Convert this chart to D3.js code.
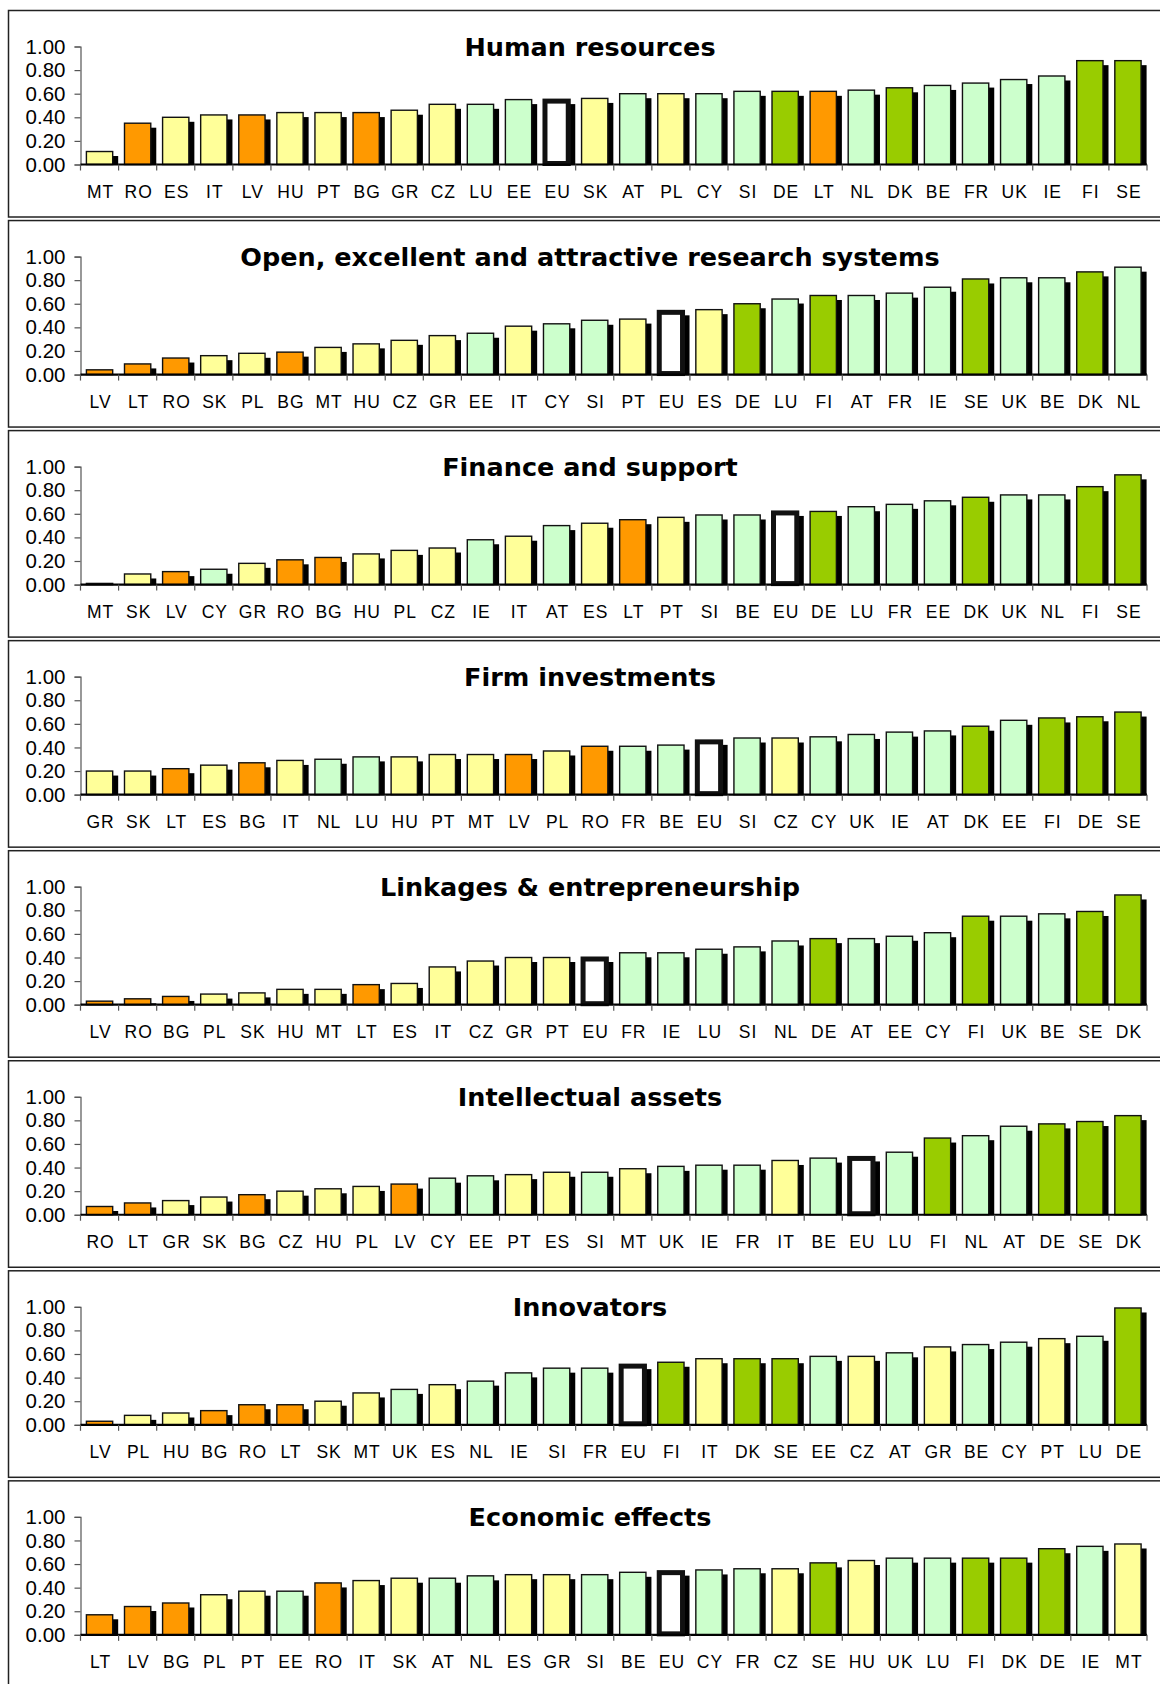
<!DOCTYPE html>
<html><head><meta charset="utf-8">
<script src="https://cdn.jsdelivr.net/npm/d3@7"></script>
<style>body{margin:0;background:#fff}svg{display:block}</style>
</head><body>
<script>
// ---- Data ----
const titles = ["Human resources","Open, excellent and attractive research systems","Finance and support",
  "Firm investments","Linkages & entrepreneurship","Intellectual assets","Innovators","Economic effects"];

const cats1 = ["MT","RO","ES","IT","LV","HU","PT","BG","GR","CZ","LU","EE","EU","SK","AT","PL","CY","SI","DE","LT","NL","DK","BE","FR","UK","IE","FI","SE"];
const vals1 = [0.11,0.35,0.40,0.42,0.42,0.44,0.44,0.44,0.46,0.51,0.51,0.55,0.55,0.56,0.60,0.60,0.60,0.62,0.62,0.62,0.63,0.65,0.67,0.69,0.72,0.75,0.88,0.88];

const cats2 = ["LV","LT","RO","SK","PL","BG","MT","HU","CZ","GR","EE","IT","CY","SI","PT","EU","ES","DE","LU","FI","AT","FR","IE","SE","UK","BE","DK","NL"];
const vals2 = [0.04,0.09,0.14,0.16,0.18,0.19,0.23,0.26,0.29,0.33,0.35,0.41,0.43,0.46,0.47,0.54,0.55,0.60,0.64,0.67,0.67,0.69,0.74,0.81,0.82,0.82,0.87,0.91];

const cats3 = ["MT","SK","LV","CY","GR","RO","BG","HU","PL","CZ","IE","IT","AT","ES","LT","PT","SI","BE","EU","DE","LU","FR","EE","DK","UK","NL","FI","SE"];
const vals3 = [0.01,0.09,0.11,0.13,0.18,0.21,0.23,0.26,0.29,0.31,0.38,0.41,0.50,0.52,0.55,0.57,0.59,0.59,0.62,0.62,0.66,0.68,0.71,0.74,0.76,0.76,0.83,0.93];

const cats4 = ["GR","SK","LT","ES","BG","IT","NL","LU","HU","PT","MT","LV","PL","RO","FR","BE","EU","SI","CZ","CY","UK","IE","AT","DK","EE","FI","DE","SE"];
const vals4 = [0.20,0.20,0.22,0.25,0.27,0.29,0.30,0.32,0.32,0.34,0.34,0.34,0.37,0.41,0.41,0.42,0.46,0.48,0.48,0.49,0.51,0.53,0.54,0.58,0.63,0.65,0.66,0.70];

const cats5 = ["LV","RO","BG","PL","SK","HU","MT","LT","ES","IT","CZ","GR","PT","EU","FR","IE","LU","SI","NL","DE","AT","EE","CY","FI","UK","BE","SE","DK"];
const vals5 = [0.03,0.05,0.07,0.09,0.10,0.13,0.13,0.17,0.18,0.32,0.37,0.40,0.40,0.40,0.44,0.44,0.47,0.49,0.54,0.56,0.56,0.58,0.61,0.75,0.75,0.77,0.79,0.93];

const cats6 = ["RO","LT","GR","SK","BG","CZ","HU","PL","LV","CY","EE","PT","ES","SI","MT","UK","IE","FR","IT","BE","EU","LU","FI","NL","AT","DE","SE","DK"];
const vals6 = [0.07,0.10,0.12,0.15,0.17,0.20,0.22,0.24,0.26,0.31,0.33,0.34,0.36,0.36,0.39,0.41,0.42,0.42,0.46,0.48,0.49,0.53,0.65,0.67,0.75,0.77,0.79,0.84];

const cats7 = ["LV","PL","HU","BG","RO","LT","SK","MT","UK","ES","NL","IE","SI","FR","EU","FI","IT","DK","SE","EE","CZ","AT","GR","BE","CY","PT","LU","DE"];
const vals7 = [0.03,0.08,0.10,0.12,0.17,0.17,0.20,0.27,0.30,0.34,0.37,0.44,0.48,0.48,0.51,0.53,0.56,0.56,0.56,0.58,0.58,0.61,0.66,0.68,0.70,0.73,0.75,0.99];

const cats8 = ["LT","LV","BG","PL","PT","EE","RO","IT","SK","AT","NL","ES","GR","SI","BE","EU","CY","FR","CZ","SE","HU","UK","LU","FI","DK","DE","IE","MT"];
const vals8 = [0.17,0.24,0.27,0.34,0.37,0.37,0.44,0.46,0.48,0.48,0.50,0.51,0.51,0.51,0.53,0.54,0.55,0.56,0.56,0.61,0.63,0.65,0.65,0.65,0.65,0.73,0.75,0.77];

const yTicks = [0, 0.2, 0.4, 0.6, 0.8, 1.0];

// Country groups (bar colours)
const modest    = ["RO","LV","BG","LT"];
const moderate  = ["MT","ES","IT","HU","PT","GR","CZ","SK","PL"];
const followers = ["LU","EE","AT","CY","SI","NL","BE","FR","UK","IE"];
const leaders   = ["DE","DK","FI","SE"];

const panels = [
  {cats:cats1, vals:vals1}, {cats:cats2, vals:vals2}, {cats:cats3, vals:vals3}, {cats:cats4, vals:vals4},
  {cats:cats5, vals:vals5}, {cats:cats6, vals:vals6}, {cats:cats7, vals:vals7}, {cats:cats8, vals:vals8}
];

function colorOf(c){
  if (c === "EU") return "#ffffff";
  if (modest.includes(c)) return "#ff9900";
  if (moderate.includes(c)) return "#ffff99";
  if (followers.includes(c)) return "#ccffcc";
  if (leaders.includes(c)) return "#99cc00";
  return "#cccccc";
}

// ---- Drawing ----
const W = 1160, H = 1684;
const svg = d3.select("body").append("svg").attr("width", W).attr("height", H);

panels.forEach((p, k) => {
  const top = 10 + 210.05 * k;
  const g = svg.append("g").attr("transform", `translate(0,${top})`);

  g.append("rect").attr("x", 8.5).attr("y", 0.5).attr("width", 1170).attr("height", 206.5)
    .attr("fill", "#fff").attr("stroke", "#222").attr("stroke-width", 1.5);

  const x = d3.scaleBand().domain(p.cats).range([80.5, 1147]).paddingInner(0.31).paddingOuter(0.155);
  const y = d3.scaleLinear().domain([0, 1]).range([154.5, 36.5]);
  const step = x.step();
  const x0 = 80.5;

  // title
  g.append("text").attr("x", 590).attr("y", 46).attr("text-anchor", "middle")
    .attr("font-family", "DejaVu Sans, Verdana, sans-serif").attr("font-weight", "bold")
    .attr("font-size", 25.5).attr("fill", "#000").text(titles[k]);

  // y axis
  const ya = g.append("g").attr("transform", `translate(${x0},0)`)
    .call(d3.axisLeft(y).tickValues(yTicks).tickFormat(d3.format(".2f")).tickSize(6).tickPadding(9));
  ya.select(".domain").attr("stroke", "#555").attr("stroke-width", 1.2);
  ya.selectAll(".tick line").attr("stroke", "#555").attr("stroke-width", 1.2);
  ya.selectAll(".tick text").attr("font-family", "Liberation Sans, Arial, sans-serif")
    .attr("font-size", 20.5).attr("fill", "#000");

  const data = p.cats.map((c, i) => ({c, v: p.vals[i]}));

  // shadows
  g.selectAll("rect.sh").data(data).enter().append("rect").attr("class", "sh")
    .attr("x", d => x(d.c) + 5.5)
    .attr("y", d => Math.min(y(d.v) + 4.5, y(0)))
    .attr("width", x.bandwidth())
    .attr("height", d => Math.max(0, y(0) - Math.min(y(d.v) + 4.5, y(0))))
    .attr("fill", "#000");

  // bars
  g.selectAll("rect.bar").data(data).enter().append("rect").attr("class", "bar")
    .attr("x", d => x(d.c) + (d.c === "EU" ? 1.5 : 0))
    .attr("y", d => y(d.v) + (d.c === "EU" ? 1.5 : 0))
    .attr("width", d => x.bandwidth() - (d.c === "EU" ? 3 : 0))
    .attr("height", d => Math.max(0.5, y(0) - y(d.v) - (d.c === "EU" ? 2.5 : 0)))
    .attr("fill", d => colorOf(d.c))
    .attr("stroke", "#111")
    .attr("stroke-width", d => d.c === "EU" ? 5 : 1.4);

  // x axis line
  g.append("line").attr("x1", x0).attr("x2", x0 + step * p.cats.length)
    .attr("y1", y(0)).attr("y2", y(0)).attr("stroke", "#000").attr("stroke-width", 2.2);

  // x ticks at band boundaries
  g.selectAll("line.xt").data(d3.range(p.cats.length + 1)).enter().append("line").attr("class", "xt")
    .attr("x1", i => x0 + i * step).attr("x2", i => x0 + i * step)
    .attr("y1", y(0)).attr("y2", y(0) + 6).attr("stroke", "#555").attr("stroke-width", 1.2);

  // category labels
  g.selectAll("text.cat").data(p.cats).enter().append("text").attr("class", "cat")
    .attr("x", c => x(c) + x.bandwidth() / 2 + 1)
    .attr("y", 188)
    .attr("text-anchor", "middle")
    .attr("font-family", "Liberation Sans, Arial, sans-serif").attr("font-size", 17.5)
    .attr("letter-spacing", 1)
    .attr("fill", "#000").text(c => c);
});
</script>
</body></html>
